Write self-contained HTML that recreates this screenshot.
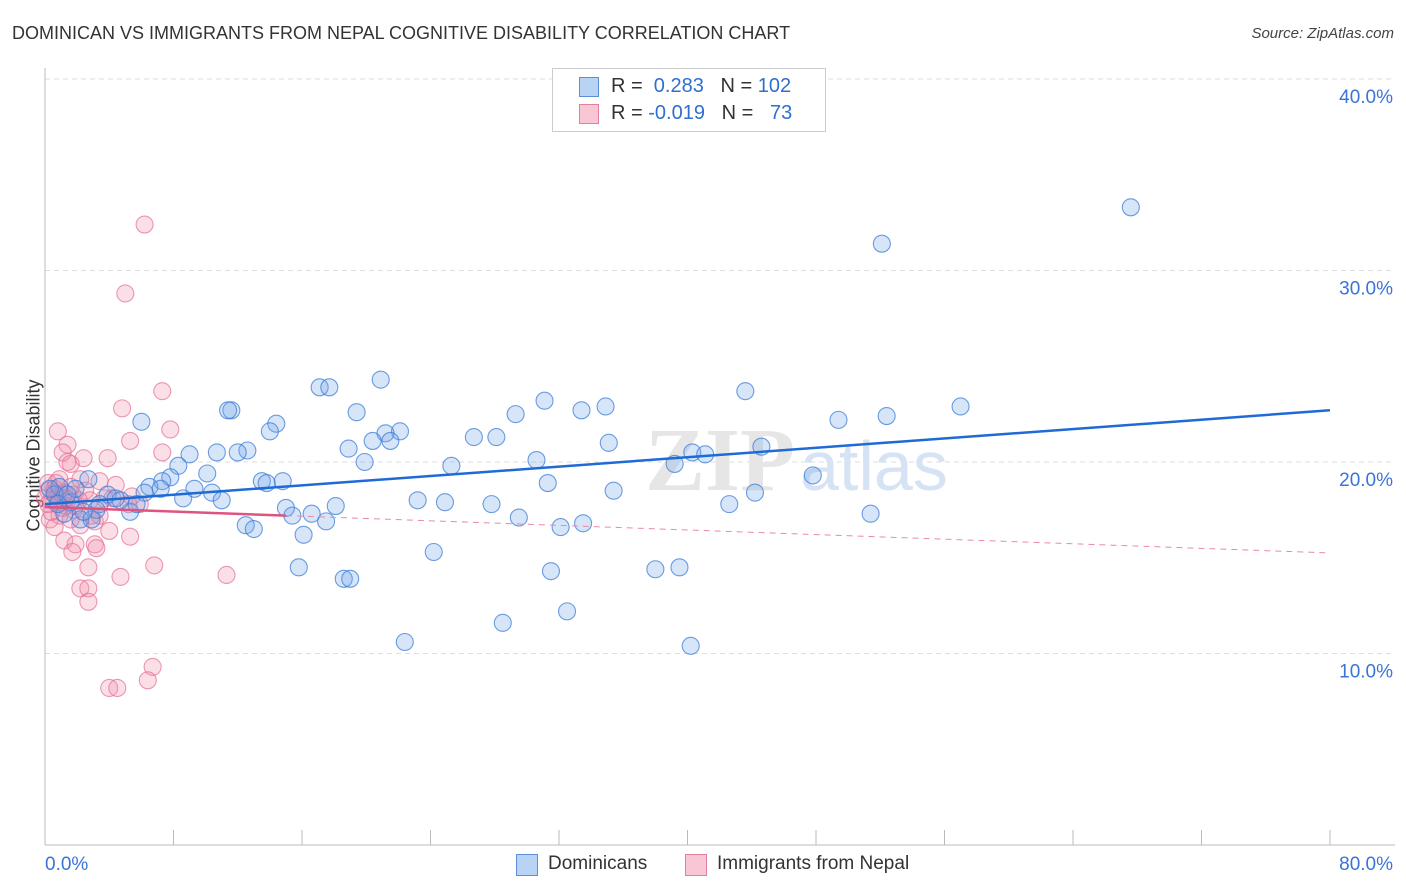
<!DOCTYPE html>
<html><head><meta charset="utf-8"><style>
body{margin:0;background:#fff;font-family:"Liberation Sans",sans-serif;}
#wrap{position:relative;width:1406px;height:892px;overflow:hidden;}
.t{position:absolute;white-space:nowrap;}
</style></head><body>
<div id="wrap">
<div class="t" style="left:12px;top:23px;font-size:18px;color:#333;">DOMINICAN VS IMMIGRANTS FROM NEPAL COGNITIVE DISABILITY CORRELATION CHART</div>
<div class="t" style="right:12px;top:25px;font-size:15px;color:#444;font-style:italic;">Source: ZipAtlas.com</div>
<div class="t" style="left:-42px;top:445px;font-size:18px;color:#333;transform:rotate(-90deg);">Cognitive Disability</div>
<svg id="svg" width="1406" height="892" style="position:absolute;left:0;top:0"></svg>
</div>
<script>
const blueX=[67.6,52.1,43.6,57.0,52.4,49.4,34.9,33.4,31.1,29.3,26.7,28.1,20.9,17.1,17.7,19.4,11.6,11.4,14.4,14.0,6.0,22.1,21.2,21.5,20.4,18.9,19.9,12.6,12.0,10.7,9.0,8.3,10.1,7.8,7.3,6.5,7.2,6.2,9.3,10.4,8.6,11.0,13.5,14.8,13.8,3.9,4.7,5.3,5.7,3.4,2.7,2.2,2.9,15.0,15.4,16.6,18.1,17.5,12.5,13.0,16.1,23.2,24.9,27.8,29.5,32.1,33.5,30.6,25.3,31.3,35.4,35.1,39.2,40.3,41.1,44.6,47.8,44.2,42.6,51.4,24.2,15.8,18.6,19.0,31.5,38.0,39.5,32.5,28.5,22.4,40.2,0.9,1.6,0.6,1.2,1.9,4.4,3.2,2.4,0.3,1.4,0.8];
const blueY=[33.3,31.4,23.7,22.9,22.4,22.2,22.9,22.7,23.2,22.5,21.3,21.3,24.3,23.9,23.9,22.6,22.7,22.7,22.0,21.6,22.1,21.6,21.5,21.1,21.1,20.7,20.0,20.6,20.5,20.5,20.4,19.8,19.4,19.2,19.0,18.7,18.6,18.4,18.6,18.4,18.1,18.0,19.0,19.0,18.9,18.3,18.0,17.4,17.8,17.8,19.1,17.0,17.0,17.6,17.2,17.3,17.7,16.9,16.7,16.5,16.2,18.0,17.9,17.8,17.1,16.6,16.8,20.1,19.8,18.9,18.5,21.0,19.9,20.5,20.4,20.8,19.3,18.4,17.8,17.3,15.3,14.5,13.9,13.9,14.3,14.4,14.5,12.2,11.6,10.6,10.4,18.7,17.9,18.3,17.3,18.6,18.1,17.5,17.4,18.6,18.3,17.8];
const pinkX=[6.2,5.0,7.3,4.8,0.8,7.8,1.4,5.3,1.1,7.3,2.4,3.9,1.6,1.4,4.4,0.2,2.2,3.4,0.6,1.1,1.7,0.4,0.8,1.3,1.9,2.5,2.8,3.7,5.4,0.9,0.3,0.6,1.6,2.2,3.1,4.0,5.3,1.2,1.9,3.1,1.7,3.2,2.7,6.8,11.3,4.7,2.2,2.7,2.7,6.7,6.4,4.0,4.5,0.2,0.4,0.9,0.0,1.6,2.1,1.2,2.9,0.8,0.6,1.3,1.1,0.2,3.4,1.8,5.9,5.2,4.2,0.7];
const pinkY=[32.4,28.8,23.7,22.8,21.6,21.7,20.9,21.1,20.5,20.5,20.2,20.2,19.9,20.0,18.8,18.9,19.1,19.0,18.6,18.3,18.3,18.0,17.9,17.7,17.7,18.5,18.0,18.1,18.2,17.2,17.0,16.6,17.0,16.7,16.9,16.4,16.1,15.9,15.7,15.7,15.3,15.5,14.5,14.6,14.1,14.0,13.4,13.4,12.7,9.3,8.6,8.2,8.2,18.5,17.4,19.1,18.1,18.7,18.0,18.4,17.2,18.2,18.4,18.1,17.6,17.8,17.2,17.5,17.8,17.8,18.1,18.9];
const blueTrend=[17.8,22.7];
const pinkTrend=[17.65,15.25];
const pinkSolidEnd=15;
const yTicks=[10,20,30,40];
const xTicks=[0,8,16,24,32,40,48,56,64,72,80];

const NS="http://www.w3.org/2000/svg";
const svg=document.getElementById('svg');
const X=v=>45+v*1285/80;
const Y=v=>845-v*19.15;
function mk(tag,a,parent){const e=document.createElementNS(NS,tag);for(const k in a)e.setAttribute(k,a[k]);(parent||svg).appendChild(e);return e;}
yTicks.forEach(t=>{
 const g=mk('line',{x1:45,x2:1395,y1:Y(t),y2:Y(t),stroke:'#ddd','stroke-dasharray':'5,4'});
 
 
 const tx=mk('text',{x:1393,y:Y(t)+24,'text-anchor':'end','font-size':19,fill:'#3a74d6','font-family':'Liberation Sans'});
 tx.textContent=t.toFixed(1)+'%';
 
 
});
const ax=mk('line',{x1:45,x2:45,y1:68,y2:845,stroke:'#bbb'});


const xa=mk('line',{x1:45,x2:1395,y1:845,y2:845,stroke:'#bbb'});


xTicks.forEach(t=>{const l=mk('line',{x1:X(t),x2:X(t),y1:830,y2:845,stroke:'#bbb'});
 
 });
[[0,'0.0%','start',45],[80,'80.0%','end',1393]].forEach(d=>{const tx=mk('text',{x:d[3],y:870,'text-anchor':d[2],'font-size':19,fill:'#3a74d6','font-family':'Liberation Sans'});tx.textContent=d[1];
 
 });
const wm=mk('text',{x:720,y:490,'text-anchor':'middle','font-size':90,fill:'#e6e6e6','font-family':'Liberation Serif','font-weight':'bold'});
wm.textContent='ZIP';


const wm2=mk('text',{x:800,y:490,'font-size':70,fill:'#d6e3f5','font-family':'Liberation Sans'});
wm2.textContent='atlas';


pinkX.forEach((v,i)=>{const c=mk('circle',{cx:X(v),cy:Y(pinkY[i]),r:8.5,fill:'rgba(240,140,170,0.28)',stroke:'rgba(228,110,150,0.7)','stroke-width':1.1});
 
 });
blueX.forEach((v,i)=>{const c=mk('circle',{cx:X(v),cy:Y(blueY[i]),r:8.5,fill:'rgba(110,160,230,0.28)',stroke:'rgba(60,125,215,0.75)','stroke-width':1.1});
 
 });
const bt=mk('line',{x1:X(0),y1:Y(blueTrend[0]),x2:X(80),y2:Y(blueTrend[1]),stroke:'#1f6bd6','stroke-width':2.5});


const pAt=x=>pinkTrend[0]+(pinkTrend[1]-pinkTrend[0])*x/80;
const ps=mk('line',{x1:X(0),y1:Y(pAt(0)),x2:X(pinkSolidEnd),y2:Y(pAt(pinkSolidEnd)),stroke:'#e0527f','stroke-width':2.5});


const pd=mk('line',{x1:X(pinkSolidEnd),y1:Y(pAt(pinkSolidEnd)),x2:X(80),y2:Y(pAt(80)),stroke:'#e88aa8','stroke-width':1,'stroke-dasharray':'6,5'});


</script>
<div style="position:absolute;left:552px;top:68px;width:272px;height:62px;border:1px solid #ccc;background:#fff;font-size:20px;">
 <div style="position:absolute;left:26px;top:8px;width:18px;height:18px;background:#b9d3f5;border:1px solid #5d8fd8;"></div>
 <div class="t" style="left:58px;top:6px;color:#333;">R = <span style="color:#2f6fd0">&nbsp;0.283</span>&nbsp;&nbsp;&nbsp;N = <span style="color:#2f6fd0">102</span></div>
 <div style="position:absolute;left:26px;top:35px;width:18px;height:18px;background:#f8c6d5;border:1px solid #e47fa0;"></div>
 <div class="t" style="left:58px;top:33px;color:#333;">R = <span style="color:#2f6fd0">-0.019</span>&nbsp;&nbsp;&nbsp;N = <span style="color:#2f6fd0">&nbsp;&nbsp;73</span></div>
</div>
<div style="position:absolute;left:0;top:852px;width:1406px;height:26px;font-size:19px;color:#333;">
 <div style="position:absolute;left:516px;top:2px;width:20px;height:20px;background:#b9d3f5;border:1px solid #5d8fd8;"></div>
 <div class="t" style="left:548px;top:1px;">Dominicans</div>
 <div style="position:absolute;left:685px;top:2px;width:20px;height:20px;background:#f8c6d5;border:1px solid #e47fa0;"></div>
 <div class="t" style="left:717px;top:1px;">Immigrants from Nepal</div>
</div>
</body></html>
